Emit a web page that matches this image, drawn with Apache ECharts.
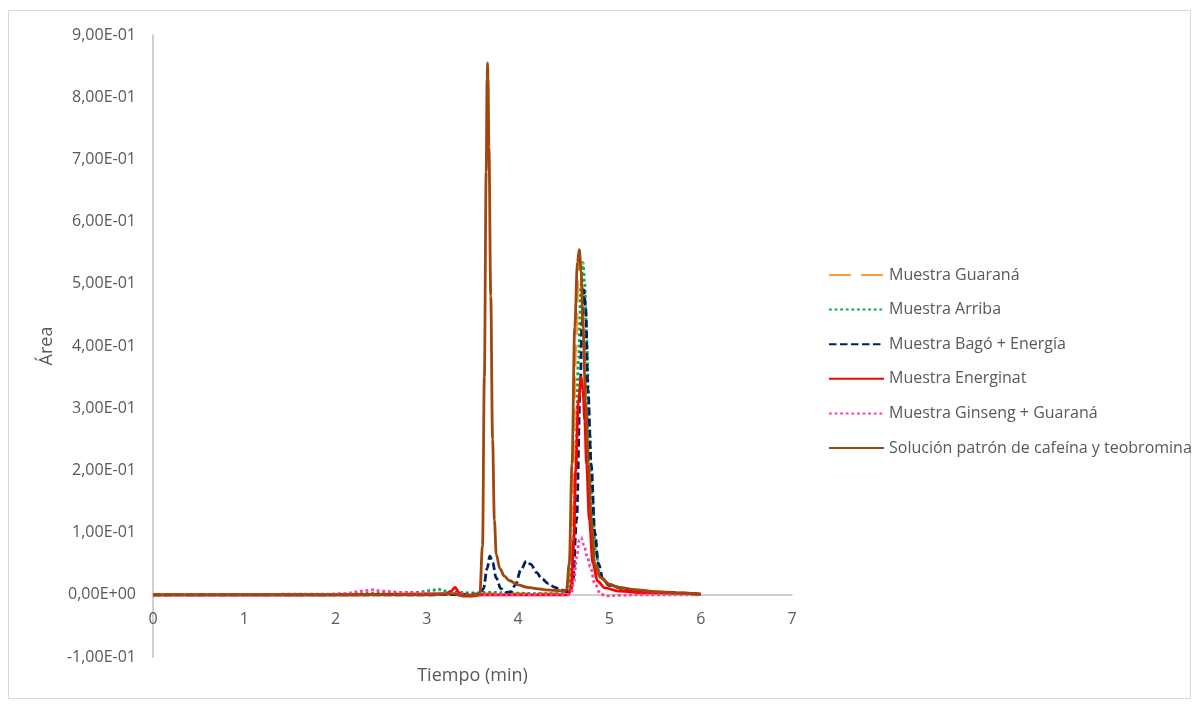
<!DOCTYPE html>
<html>
<head>
<meta charset="utf-8">
<script src="https://cdn.jsdelivr.net/npm/echarts@6/dist/echarts.min.js"></script>
<style>
html,body{margin:0;padding:0;background:#fff;}
#chart{width:1200px;height:704px;}
</style>
</head>
<body>
<div id="chart"></div>
<script>
// Series names (legend order)
const seriesNames = [
  'Muestra Guaraná',
  'Muestra Arriba',
  'Muestra Bagó + Energía',
  'Muestra Energinat',
  'Muestra Ginseng + Guaraná',
  'Solución patrón de cafeína y teobromina'
];

// [time (min), area]
const guarana = [[0,0],[2,0],[3,0.001],[3.5,0.001],[3.6,0.002],[4,0.002],[4.5,0.002],[4.54,0.006],[4.57,0.04],[4.6,0.18],[4.63,0.39],[4.66,0.52],[4.68,0.54],[4.7,0.5],[4.72,0.42],[4.75,0.3],[4.78,0.19],[4.81,0.11],[4.85,0.05],[4.9,0.028],[5,0.016],[5.2,0.009],[5.5,0.005],[6,0.001]];

const arriba = [[0,0],[2,0.001],[2.6,0.003],[2.9,0.004],[3.05,0.007],[3.12,0.009],[3.17,0.008],[3.22,0.005],[3.35,0.004],[3.5,0.003],[3.7,0.004],[3.9,0.003],[4.2,0.002],[4.5,0.002],[4.56,0.01],[4.6,0.06],[4.63,0.2],[4.66,0.38],[4.69,0.5],[4.71,0.534],[4.73,0.5],[4.75,0.41],[4.78,0.27],[4.81,0.16],[4.85,0.07],[4.9,0.03],[5,0.015],[5.2,0.008],[5.5,0.004],[6,0.001]];

const bago = [[0,0],[3,0],[3.58,0.001],[3.62,0.01],[3.66,0.042],[3.69,0.062],[3.72,0.052],[3.76,0.027],[3.81,0.01],[3.87,0.004],[3.92,0.005],[3.97,0.016],[4.03,0.04],[4.09,0.054],[4.14,0.049],[4.2,0.036],[4.26,0.026],[4.33,0.018],[4.4,0.012],[4.47,0.008],[4.53,0.005],[4.57,0.006],[4.6,0.02],[4.64,0.12],[4.68,0.33],[4.7,0.44],[4.72,0.49],[4.74,0.46],[4.765,0.33],[4.8,0.21],[4.84,0.1],[4.88,0.05],[4.93,0.025],[5,0.015],[5.2,0.008],[5.5,0.004],[6,0.001]];

const energinat = [[0,0],[2,0],[2.8,0.001],[3.2,0.002],[3.26,0.005],[3.31,0.012],[3.35,0.004],[3.39,-0.002],[3.5,-0.002],[3.6,0],[4,0],[4.55,0],[4.58,0.01],[4.61,0.09],[4.63,0.2],[4.66,0.31],[4.69,0.35],[4.71,0.33],[4.73,0.28],[4.75,0.21],[4.78,0.12],[4.82,0.05],[4.87,0.022],[4.95,0.011],[5.1,0.006],[5.4,0.003],[6,0.001]];

const ginseng = [[0,0],[1.8,0],[2.1,0.002],[2.3,0.006],[2.4,0.008],[2.5,0.006],[2.7,0.004],[3,0.003],[3.3,0.002],[3.5,0],[4,0],[4.55,0],[4.58,0.003],[4.61,0.02],[4.64,0.06],[4.67,0.088],[4.69,0.092],[4.72,0.08],[4.76,0.06],[4.79,0.045],[4.84,0.018],[4.9,0.002],[4.96,-0.002],[5.1,-0.001],[5.3,0],[6,0]];

const patron = [[0,0],[1,0],[2,0],[3,0],[3.2,0.001],[3.3,0.002],[3.36,-0.001],[3.5,0],[3.58,0.001],[3.61,0.08],[3.63,0.35],[3.65,0.68],[3.66,0.83],[3.665,0.855],[3.67,0.83],[3.68,0.72],[3.7,0.48],[3.72,0.25],[3.74,0.12],[3.76,0.065],[3.8,0.042],[3.85,0.03],[3.9,0.023],[4,0.016],[4.1,0.012],[4.2,0.01],[4.3,0.008],[4.4,0.007],[4.5,0.006],[4.53,0.008],[4.56,0.05],[4.59,0.21],[4.62,0.43],[4.65,0.535],[4.67,0.555],[4.69,0.52],[4.71,0.43],[4.74,0.31],[4.77,0.21],[4.8,0.12],[4.84,0.05],[4.9,0.028],[5,0.017],[5.1,0.012],[5.3,0.008],[5.5,0.005],[5.75,0.003],[6,0.001]];

const xTicks = {min: 0, max: 7, interval: 1};
const yTicks = {min: -0.1, max: 0.9, interval: 0.1};

function sciLabel(v) {
  v = Math.round(v * 100) / 100;
  if (Math.abs(v) < 1e-12) return '0,00E+00';
  const e = Math.floor(Math.log10(Math.abs(v)) + 1e-9);
  const m = v / Math.pow(10, e);
  return m.toFixed(2).replace('.', ',') + 'E' + (e < 0 ? '-' : '+') + String(Math.abs(e)).padStart(2, '0');
}

const FONT = 'Open Sans';
const TXT = '#595959';

const GRID = {left: 153, right: 408, top: 35, bottom: 47};
const gridH = 704 - GRID.top - GRID.bottom;
// x axis drawn where y = 0 (labels and title travel with it)
const xAxisOffset = -gridH * (0 - yTicks.min) / (yTicks.max - yTicks.min);

const styles = [
  {color: '#FF9933', type: [22, 10]},
  {color: '#00B050', type: [2.8, 2.8]},
  {color: '#002060', type: [7.5, 3.5]},
  {color: '#FF0000', type: 'solid'},
  {color: '#FF3FA0', type: [2.8, 2.8]},
  {color: '#9E480E', type: 'solid'}
];
const datasets = [guarana, arriba, bago, energinat, ginseng, patron];

const chart = echarts.init(document.getElementById('chart'), null, {renderer: 'canvas'});
chart.setOption({
  animation: false,
  backgroundColor: '#fff',
  textStyle: {fontFamily: FONT},
  grid: Object.assign({containLabel: false, outerBoundsMode: 'none'}, GRID),
  graphic: [{
    type: 'rect', shape: {x: 8.5, y: 10.5, width: 1182, height: 688},
    style: {fill: 'none', stroke: '#D9D9D9', lineWidth: 1}, silent: true, z: -10
  }],
  legend: {
    orient: 'vertical', left: 828, top: 267, padding: 0,
    itemWidth: 55, itemHeight: 16, itemGap: 18.6,
    itemStyle: {opacity: 0},
    textStyle: {fontFamily: FONT, fontSize: 16, color: TXT},
    data: seriesNames
  },
  xAxis: {
    type: 'value', min: xTicks.min, max: xTicks.max, interval: xTicks.interval,
    offset: xAxisOffset,
    name: 'Tiempo (min)', nameLocation: 'middle', nameGap: 72,
    nameTextStyle: {fontFamily: FONT, fontSize: 18, color: TXT},
    axisLine: {show: true, onZero: false, lineStyle: {color: '#BFBFBF', width: 1.5}},
    axisTick: {show: false},
    splitLine: {show: false},
    axisLabel: {fontFamily: FONT, fontSize: 16, color: TXT, margin: 17}
  },
  yAxis: {
    type: 'value', min: yTicks.min, max: yTicks.max, interval: yTicks.interval,
    name: 'Área', nameLocation: 'middle', nameGap: 96,
    nameTextStyle: {fontFamily: FONT, fontSize: 18, color: TXT},
    axisLine: {show: true, lineStyle: {color: '#BFBFBF', width: 1.5}},
    axisTick: {show: false},
    splitLine: {show: false},
    axisLabel: {fontFamily: FONT, fontSize: 16, color: TXT, margin: 17, formatter: sciLabel}
  },
  series: seriesNames.map((name, i) => ({
    name: name,
    type: 'line',
    data: datasets[i],
    symbol: 'none',
    smooth: 0.35,
    smoothMonotone: 'x',
    color: styles[i].color,
    lineStyle: {color: styles[i].color, width: 2.8, type: styles[i].type, cap: 'butt'}
  }))
});
</script>
</body>
</html>
